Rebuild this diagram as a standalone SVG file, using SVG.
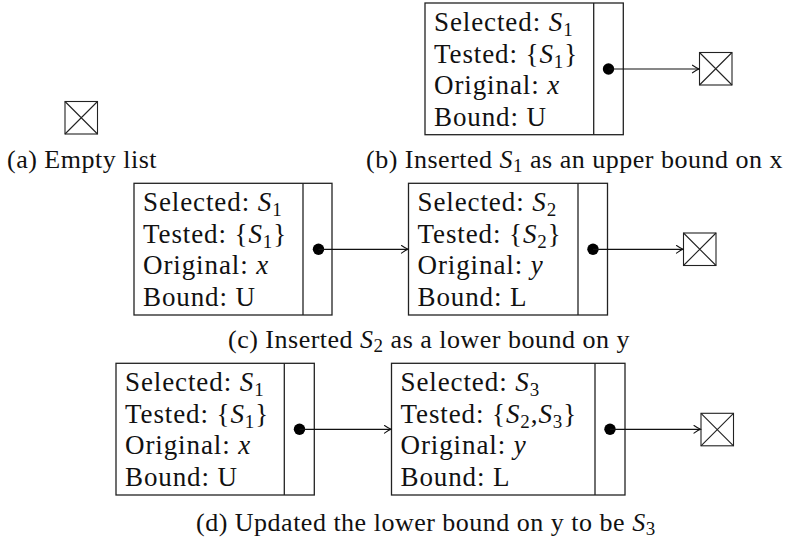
<svg xmlns="http://www.w3.org/2000/svg" width="800" height="543" viewBox="0 0 800 543">
  <style>
    .box { fill: none; stroke: #222; stroke-width: 1.3; }
    .nil { fill: none; stroke: #222; stroke-width: 1.1; }
    .t { font-family: "Liberation Serif", "Times New Roman", serif; font-size: 27px; letter-spacing: 0.9px; fill: #111; }
    .cap { font-family: "Liberation Serif", "Times New Roman", serif; font-size: 26px; letter-spacing: 0.5px; fill: #111; }
    .m { font-style: italic; }
    .sub { font-size: 19px; }
    .dot { fill: #000; }
    .link { fill: none; stroke: #111; stroke-width: 1.2; marker-end: url(#to); }
  </style>
  <defs>
    <marker id="to" viewBox="-8 -5 9 10" markerWidth="9" markerHeight="10" refX="0" refY="0" orient="auto" markerUnits="userSpaceOnUse">
      <path d="M -6.5,-3.8 Q -2,-0.8 0,0 Q -2,0.8 -6.5,3.8" fill="none" stroke="#111" stroke-width="1.1" stroke-linecap="round"/>
    </marker>
    <!-- empty-list terminator: square with a cross -->
    <g id="nilbox">
      <rect class="nil" x="0" y="0" width="32.5" height="32.5"/>
      <path class="nil" d="M0,0 L32.5,32.5 M32.5,0 L0,32.5"/>
    </g>
  </defs>

  <!-- (a) empty list -->
  <g id="nil-a"><use href="#nilbox" x="65" y="101.5"/></g>
  <text class="cap" x="7" y="168">(a) Empty list</text>

  <!-- (b) one node -->
  <g id="node-b1">
    <rect class="box" x="425" y="3" width="198.3" height="131.7"/>
    <line class="box" x1="593.7" y1="3" x2="593.7" y2="134.7"/>
    <text class="t" x="434" y="31">Selected: <tspan class="m">S</tspan><tspan class="sub" dy="5">1</tspan></text>
    <text class="t" x="434" y="62.5">Tested: {<tspan class="m">S</tspan><tspan class="sub" dy="5">1</tspan><tspan dy="-5">}</tspan></text>
    <text class="t" x="434" y="94">Original: <tspan class="m">x</tspan></text>
    <text class="t" x="434" y="125.5">Bound: U</text>
    <circle class="dot" cx="608.5" cy="69" r="5.7"/>
  </g>
  <g id="nil-b"><use href="#nilbox" x="699.5" y="52.5"/></g>
  <text class="cap" x="366" y="168">(b) Inserted <tspan class="m">S</tspan><tspan class="sub" dy="4">1</tspan><tspan dy="-4"> as an upper bound on x</tspan></text>

  <!-- (c) two nodes -->
  <g id="node-c1">
    <rect class="box" x="134" y="183.3" width="198" height="131.7"/>
    <line class="box" x1="303" y1="183.3" x2="303" y2="315"/>
    <text class="t" x="143" y="211.3">Selected: <tspan class="m">S</tspan><tspan class="sub" dy="5">1</tspan></text>
    <text class="t" x="143" y="242.8">Tested: {<tspan class="m">S</tspan><tspan class="sub" dy="5">1</tspan><tspan dy="-5">}</tspan></text>
    <text class="t" x="143" y="274.3">Original: <tspan class="m">x</tspan></text>
    <text class="t" x="143" y="305.8">Bound: U</text>
    <circle class="dot" cx="318.5" cy="249.3" r="5.7"/>
  </g>
  <g id="node-c2">
    <rect class="box" x="408.5" y="183.3" width="199" height="131.7"/>
    <line class="box" x1="578" y1="183.3" x2="578" y2="315"/>
    <text class="t" x="417.5" y="211.3">Selected: <tspan class="m">S</tspan><tspan class="sub" dy="5">2</tspan></text>
    <text class="t" x="417.5" y="242.8">Tested: {<tspan class="m">S</tspan><tspan class="sub" dy="5">2</tspan><tspan dy="-5">}</tspan></text>
    <text class="t" x="417.5" y="274.3">Original: <tspan class="m">y</tspan></text>
    <text class="t" x="417.5" y="305.8">Bound: L</text>
    <circle class="dot" cx="593" cy="249.3" r="5.7"/>
  </g>
  <g id="nil-c"><use href="#nilbox" x="683.5" y="233"/></g>
  <text class="cap" x="228" y="348">(c) Inserted <tspan class="m">S</tspan><tspan class="sub" dy="4">2</tspan><tspan dy="-4"> as a lower bound on y</tspan></text>

  <!-- (d) two nodes, second one updated -->
  <g id="node-d1">
    <rect class="box" x="116" y="363.3" width="198.3" height="131.7"/>
    <line class="box" x1="284.3" y1="363.3" x2="284.3" y2="495"/>
    <text class="t" x="125" y="391.3">Selected: <tspan class="m">S</tspan><tspan class="sub" dy="5">1</tspan></text>
    <text class="t" x="125" y="422.8">Tested: {<tspan class="m">S</tspan><tspan class="sub" dy="5">1</tspan><tspan dy="-5">}</tspan></text>
    <text class="t" x="125" y="454.3">Original: <tspan class="m">x</tspan></text>
    <text class="t" x="125" y="485.8">Bound: U</text>
    <circle class="dot" cx="299.5" cy="429.3" r="5.7"/>
  </g>
  <g id="node-d2">
    <rect class="box" x="391.5" y="363.3" width="233.5" height="131.7"/>
    <line class="box" x1="595" y1="363.3" x2="595" y2="495"/>
    <text class="t" x="400.5" y="391.3">Selected: <tspan class="m">S</tspan><tspan class="sub" dy="5">3</tspan></text>
    <text class="t" x="400.5" y="422.8">Tested: {<tspan class="m">S</tspan><tspan class="sub" dy="5">2</tspan><tspan dy="-5">,</tspan><tspan class="m">S</tspan><tspan class="sub" dy="5">3</tspan><tspan dy="-5">}</tspan></text>
    <text class="t" x="400.5" y="454.3">Original: <tspan class="m">y</tspan></text>
    <text class="t" x="400.5" y="485.8">Bound: L</text>
    <circle class="dot" cx="610" cy="429.3" r="5.7"/>
  </g>
  <g id="nil-d"><use href="#nilbox" x="701" y="413.3"/></g>
  <text class="cap" x="196" y="531">(d) Updated the lower bound on y to be <tspan class="m">S</tspan><tspan class="sub" dy="4">3</tspan></text>

  <!-- next-pointer links -->
  <g id="connectors">
    <line class="link" x1="608.5" y1="69" x2="699" y2="69"/>
    <line class="link" x1="318.5" y1="249.3" x2="408" y2="249.3"/>
    <line class="link" x1="593" y1="249.3" x2="683" y2="249.3"/>
    <line class="link" x1="299.5" y1="429.3" x2="391" y2="429.3"/>
    <line class="link" x1="610" y1="429.3" x2="700.5" y2="429.3"/>
  </g>
</svg>
